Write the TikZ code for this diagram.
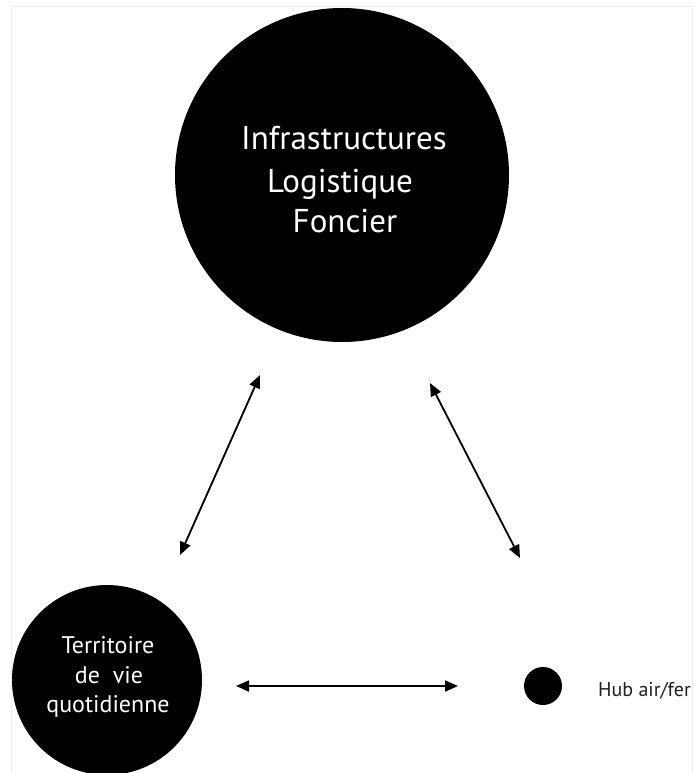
\documentclass[tikz,border=0pt]{standalone}
\usepackage{fontspec}
\setmainfont{PT Sans}
\usetikzlibrary{arrows.meta}
\begin{document}
\begin{tikzpicture}[x=1pt,y=-1pt,
  disc/.style={circle,fill=black,draw=none,inner sep=0pt},
  whitetxt/.style={text=white,align=center,inner sep=0pt,anchor=base},
  bigfont/.style={font=\fontsize{33}{42}\selectfont},
  smallfont/.style={font=\fontsize{24}{29}\selectfont},
  link/.style={line width=1.8pt,{Triangle[length=13pt,width=11pt]}-{Triangle[length=13pt,width=11pt]}},
  frame/.style={draw=black!7,line width=0.8pt}]
\useasboundingbox (0,0) rectangle (695,773);
\draw[frame] (11,780) -- (11,6) -- (692,6) -- (692,780);
% circles
\node[disc,minimum size=334pt] (big) at (342,175) {};
\node[disc,minimum size=190pt] (terr) at (107,680) {};
\node[disc,minimum size=38pt] (hub) at (543,686) {};
% texts
\node[whitetxt,bigfont] (t1) at (344,149) {Infrastructures};
\node[whitetxt,bigfont] (t2) at (340,192) {Logistique};
\node[whitetxt,bigfont] (t3) at (345,232) {Foncier};
\node[whitetxt,smallfont] (s1) at (108,653) {Territoire};
\node[whitetxt,smallfont] (s2) at (109,683) {de\ \ vie};
\node[whitetxt,smallfont] (s3) at (108,712) {quotidienne};
\node[text=black!88,inner sep=0pt,anchor=base west,font=\fontsize{20}{24}\selectfont] (hubtxt) at (598,696) {Hub air/fer};
% connectors
\coordinate (a1) at (260,375);
\coordinate (a2) at (180,555);
\coordinate (b1) at (430,383);
\coordinate (b2) at (520,558);
\coordinate (c1) at (236,686);
\coordinate (c2) at (458,686);
\draw[link] (a1) -- (a2);
\draw[link] (b1) -- (b2);
\draw[link] (c1) -- (c2);
\end{tikzpicture}
\end{document}
